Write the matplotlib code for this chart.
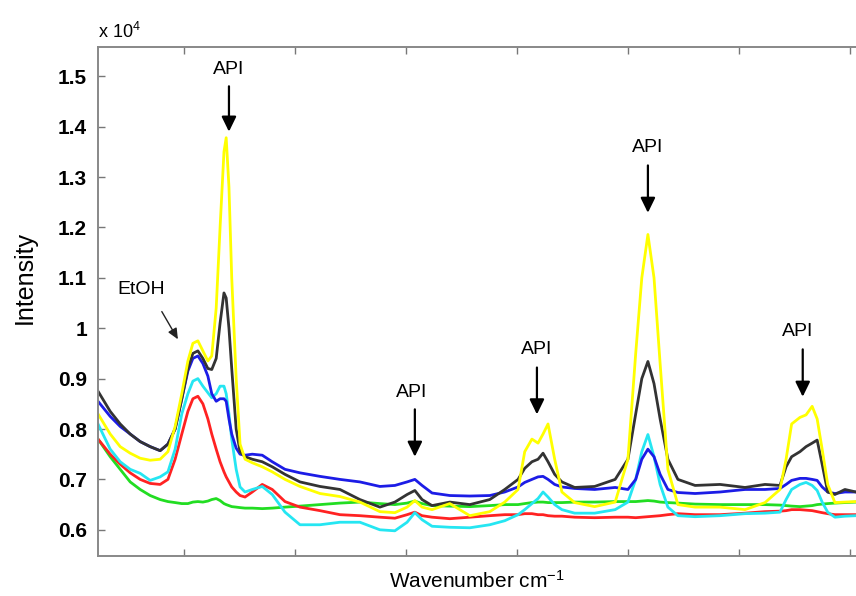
import matplotlib
matplotlib.use("Agg")
import matplotlib.pyplot as plt

plt.rcParams['font.family'] = ['Liberation Sans', 'DejaVu Sans']
plt.rcParams['mathtext.fontset'] = 'custom'
plt.rcParams['mathtext.rm'] = 'Liberation Sans'
plt.rcParams['mathtext.it'] = 'Liberation Sans:italic'

# ---- data (intensity in units of 1e4) ----
wavenumber = [245, 267, 285, 303, 321, 339, 357, 371, 384, 396, 407, 416, 425, 434, 443, 450,
              458, 465, 472, 476, 481, 486, 494, 501, 510, 523, 541, 559, 582, 609, 645, 681,
              717, 753, 780, 802, 816, 829, 847, 879, 915, 951, 978, 1002, 1014, 1027, 1038,
              1047, 1056, 1068, 1081, 1104, 1140, 1177, 1200, 1214, 1225, 1236, 1247, 1258,
              1272, 1290, 1321, 1366, 1411, 1447, 1474, 1485, 1495, 1510, 1521, 1532, 1541,
              1550, 1560, 1573, 1591, 1611]

green = [0.78, 0.745, 0.72, 0.695, 0.68, 0.668, 0.66, 0.656, 0.654, 0.652, 0.652, 0.655, 0.656,
         0.655, 0.657, 0.66, 0.662, 0.658, 0.652, 0.65, 0.648, 0.646, 0.645, 0.644, 0.643, 0.643,
         0.642, 0.643, 0.645, 0.647, 0.65, 0.653, 0.655, 0.652, 0.65, 0.653, 0.657, 0.652, 0.648,
         0.647, 0.646, 0.648, 0.65, 0.65, 0.652, 0.654, 0.655, 0.655, 0.654, 0.654, 0.654, 0.655,
         0.655, 0.656, 0.656, 0.656, 0.657, 0.658, 0.657, 0.655, 0.654, 0.653, 0.651, 0.65, 0.65,
         0.65, 0.649, 0.648, 0.647, 0.646, 0.647, 0.648, 0.65, 0.651, 0.652, 0.653, 0.654, 0.655]

red = [0.78, 0.75, 0.73, 0.713, 0.70, 0.692, 0.69, 0.70, 0.74, 0.79, 0.835, 0.86, 0.865, 0.85,
       0.82, 0.79, 0.76, 0.735, 0.715, 0.705, 0.695, 0.685, 0.675, 0.668, 0.665, 0.675, 0.69,
       0.68, 0.656, 0.645, 0.638, 0.63, 0.628, 0.625, 0.623, 0.63, 0.635, 0.628, 0.625, 0.622,
       0.625, 0.628, 0.63, 0.63, 0.632, 0.632, 0.63, 0.63, 0.628, 0.627, 0.627, 0.625, 0.624,
       0.625, 0.625, 0.624, 0.625, 0.626, 0.627, 0.628, 0.63, 0.632, 0.63, 0.63, 0.633, 0.636,
       0.637, 0.638, 0.64, 0.64, 0.639, 0.638, 0.636, 0.634, 0.632, 0.63, 0.63, 0.63]

cyan = [0.81, 0.76, 0.735, 0.72, 0.712, 0.698, 0.705, 0.715, 0.76, 0.83, 0.87, 0.895, 0.90,
        0.885, 0.872, 0.862, 0.87, 0.885, 0.885, 0.87, 0.83, 0.78, 0.72, 0.685, 0.675, 0.68,
        0.686, 0.67, 0.635, 0.61, 0.61, 0.615, 0.615, 0.60, 0.598, 0.615, 0.634, 0.62, 0.607,
        0.605, 0.604, 0.61, 0.618, 0.63, 0.64, 0.652, 0.662, 0.675, 0.665, 0.65, 0.64, 0.633,
        0.633, 0.64, 0.655, 0.70, 0.755, 0.789, 0.745, 0.69, 0.645, 0.628, 0.626, 0.628, 0.632,
        0.633, 0.635, 0.66, 0.68, 0.69, 0.694, 0.688, 0.678, 0.655, 0.635, 0.625, 0.627, 0.628]

blue = [0.855, 0.825, 0.805, 0.79, 0.775, 0.765, 0.757, 0.77, 0.80, 0.86, 0.915, 0.94, 0.945,
        0.93, 0.905, 0.87, 0.855, 0.86, 0.86, 0.855, 0.82, 0.79, 0.762, 0.75, 0.748, 0.75,
        0.748, 0.735, 0.72, 0.713, 0.706, 0.70, 0.695, 0.686, 0.688, 0.695, 0.70, 0.688, 0.673,
        0.668, 0.667, 0.668, 0.675, 0.685, 0.694, 0.70, 0.705, 0.706, 0.70, 0.69, 0.685, 0.682,
        0.68, 0.684, 0.68, 0.70, 0.74, 0.76, 0.745, 0.71, 0.68, 0.674, 0.672, 0.675, 0.68, 0.68,
        0.682, 0.69, 0.698, 0.702, 0.702, 0.70, 0.698, 0.685, 0.675, 0.672, 0.675, 0.675]

black = [0.875, 0.835, 0.81, 0.79, 0.775, 0.765, 0.757, 0.77, 0.80, 0.86, 0.92, 0.95, 0.955,
         0.94, 0.92, 0.918, 0.94, 1.01, 1.07, 1.06, 1.0, 0.92, 0.80, 0.755, 0.745, 0.74, 0.735,
         0.725, 0.71, 0.695, 0.686, 0.68, 0.66, 0.645, 0.655, 0.67, 0.678, 0.66, 0.648, 0.655,
         0.65, 0.66, 0.68, 0.70, 0.722, 0.735, 0.74, 0.752, 0.735, 0.71, 0.695, 0.684, 0.686,
         0.70, 0.74, 0.83, 0.90, 0.934, 0.89, 0.82, 0.74, 0.70, 0.688, 0.69, 0.684, 0.69, 0.688,
         0.725, 0.745, 0.755, 0.765, 0.772, 0.778, 0.73, 0.675, 0.67, 0.68, 0.675]

yellow = [0.83, 0.79, 0.765, 0.752, 0.742, 0.738, 0.74, 0.755, 0.805, 0.87, 0.935, 0.97, 0.975,
          0.955, 0.935, 0.945, 1.04, 1.20, 1.35, 1.378, 1.28, 1.10, 0.90, 0.77, 0.74, 0.733,
          0.725, 0.715, 0.70, 0.686, 0.672, 0.666, 0.655, 0.636, 0.634, 0.645, 0.658, 0.645,
          0.64, 0.652, 0.628, 0.636, 0.655, 0.68, 0.755, 0.78, 0.772, 0.79, 0.81, 0.74, 0.675,
          0.654, 0.646, 0.655, 0.74, 0.95, 1.10, 1.186, 1.10, 0.93, 0.72, 0.65, 0.645, 0.645,
          0.64, 0.654, 0.68, 0.74, 0.81, 0.823, 0.828, 0.845, 0.82, 0.76, 0.69, 0.654, 0.655, 0.656]

series = [("green", green, "#22dd22"), ("red", red, "#ff2222"), ("cyan", cyan, "#25e6f2"),
          ("blue", blue, "#1c1ce6"), ("black", black, "#333333"), ("yellow", yellow, "#ffff00")]

y_ticks = [0.6, 0.7, 0.8, 0.9, 1.0, 1.1, 1.2, 1.3, 1.4, 1.5]
y_ticklabels = ['0.6', '0.7', '0.8', '0.9', '1', '1.1', '1.2', '1.3', '1.4', '1.5']
x_ticks = [400, 600, 800, 1000, 1200, 1400, 1600]

# annotations: (label, text x, text y, arrow x, arrow start y, arrow end y)
api_marks = [("API", 481, 1.513, 481, 1.480, 1.390),
             ("API", 811, 0.872, 816, 0.839, 0.745),
             ("API", 1036, 0.958, 1036, 0.922, 0.829),
             ("API", 1236, 1.359, 1236, 1.323, 1.229),
             ("API", 1505, 0.993, 1515, 0.958, 0.864)]

# ---- figure ----
fig = plt.figure(figsize=(8.56, 5.96), dpi=100)
ax = fig.add_axes([98 / 856, 1 - 556 / 596, 1 - 98 / 856, (556 - 47) / 596])

for name, vals, col in series:
    ax.plot(wavenumber, vals, color=col, lw=2.0, solid_joinstyle='round')

ax.set_xlim(245, 1611)
ax.set_ylim(0.548, 1.558)
ax.set_xticks(x_ticks)
ax.set_xticklabels([])
ax.set_yticks(y_ticks)
ax.set_yticklabels(y_ticklabels, fontsize=15, fontweight='bold')
ax.tick_params(direction='in', length=5, width=1, color='#777777', pad=8,
               top=True, right=False)
for s in ['left', 'bottom', 'top']:
    ax.spines[s].set_color('#888888')
    ax.spines[s].set_linewidth(1.4)
ax.spines['right'].set_visible(False)

for lab, tx, ty, axx, y0, y1 in api_marks:
    ax.text(tx, ty, lab, ha='center', va='center', fontsize=14)
    ax.annotate('', xy=(axx, y1), xytext=(axx, y0),
                arrowprops=dict(arrowstyle='-|>,head_length=0.45,head_width=0.22',
                                lw=1.6, color='black', mutation_scale=20, shrinkA=0, shrinkB=0))

ax.text(322, 1.077, 'EtOH', ha='center', va='center', fontsize=14)
ax.annotate('', xy=(389, 0.978), xytext=(360, 1.033),
            arrowprops=dict(arrowstyle='-|>,head_length=0.4,head_width=0.18',
                            lw=1.0, color='#222222', mutation_scale=16, shrinkA=0, shrinkB=0))

fig.text(477 / 856, 1 - 581 / 596, 'Wavenumber cm$^{-1}$', ha='center', va='center', fontsize=15)
fig.text(25 / 856, 1 - 277 / 596, 'Intensity', rotation=90, ha='center', va='center', fontsize=18)
fig.text(98 / 856, 1 - 32 / 596, r'x 10$^{4}$', ha='left', va='center', fontsize=13)

fig.savefig('out.png', dpi=100)
